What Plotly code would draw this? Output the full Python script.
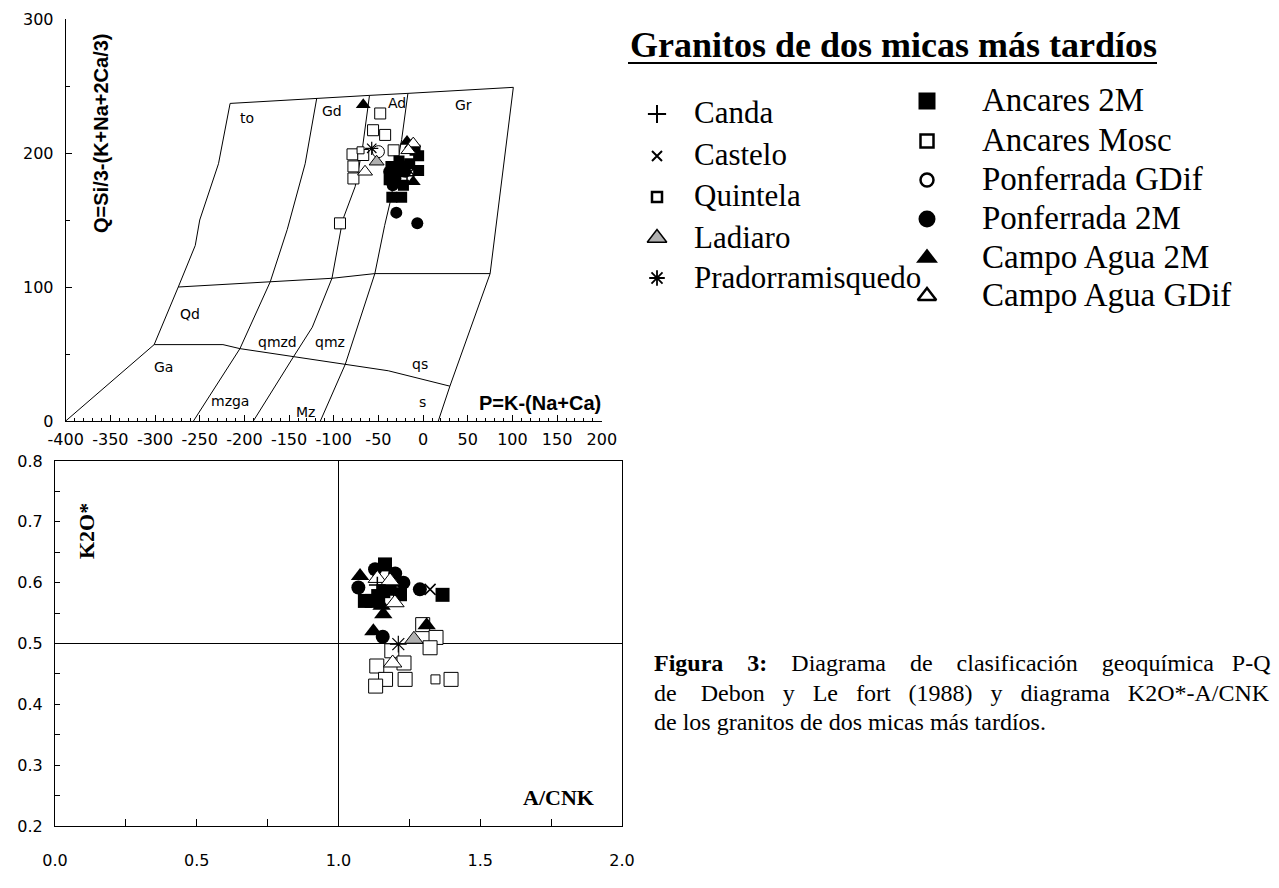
import plotly.graph_objects as go

W, H = 1279, 888

# ---------------- P-Q diagram (Debon & Le Fort, 1988): field boundaries ----------------
outer_left_P = [-216, -229, -250, -255, -274, -301, -400]
outer_left_Q = [237, 192, 150, 131, 100, 57, 0]
top_edge_P = [-216, -119, -60, -17, 101]
top_edge_Q = [237, 241, 243, 244.5, 249]
right_edge_P = [101, 82, 75, 30, 17]
right_edge_Q = [249, 145, 110, 26, 0]
to_gd_P = [-119, -132, -152, -171, -205, -257]
to_gd_Q = [241, 192, 143, 104, 54, 0]
gd_ad_P = [-60, -68, -76, -90, -102, -124, -145, -190]
gd_ad_Q = [243, 203, 175, 150, 106.5, 70, 48, 0]
ad_gr_P = [-17, -24, -37, -43, -54, -71, -87, -115]
ad_gr_Q = [244.5, 210, 163, 146, 110, 76, 42.5, 0]
qd_top_P = [-274, -171, -102, -54, 75]
qd_top_Q = [100, 104, 106.5, 110, 110]
ga_top_P = [-301, -224, -205, -145, -87, -39, 30]
ga_top_Q = [57, 57, 54, 48, 42.5, 37.5, 26]

field_names = ["to", "Gd", "Ad", "Gr", "Qd", "Ga", "qmzd", "mzga", "Mz", "qmz", "qs", "s"]
field_P = [-197, -102, -29, 45, -261, -291, -163, -216, -132, -104, -3, -1]
field_Q = [226, 231, 237, 236, 80, 40, 59, 15, 7, 59, 42.5, 14]

pq_xticks = list(range(-400, 201, 50))
pq_xlabels = [str(v) for v in pq_xticks]          # plain hyphen, as printed

# ---------------- samples: P-Q values ----------------
ancares_2m_P = [-35, -24, -36, -28, -38, -22, -15, -5, -9, -5, -27, -33]
ancares_2m_Q = [167, 167, 190, 186, 180, 176, 192, 187, 202, 198, 194, 184]
ancares_mosc_P = [-48, -56, -42.5, -79, -67, -33, -78, -78, -93]
ancares_mosc_Q = [229.5, 217, 213.5, 199, 198.5, 202, 190, 181, 147.5]
ponferrada_gdif_P = [-50]
ponferrada_gdif_Q = [201]
ponferrada_2m_P = [-30, -6.5, -38, -31, -25, -34, -20]
ponferrada_2m_Q = [155.5, 147.5, 186, 181, 191, 176, 186]
campo_agua_2m_P = [-67, -18, -13, -11, -28]
campo_agua_2m_Q = [236, 208.5, 206, 178.5, 178]
campo_agua_gdif_P = [-65, -11, -16.5]
campo_agua_gdif_Q = [186, 207, 202]
canda_P = [-18]
canda_Q = [183]
castelo_P = [-14]
castelo_Q = [186]
quintela_P = [-70]
quintela_Q = [202]
ladiaro_P = [-52]
ladiaro_Q = [193.5]
prado_P = [-57.5]
prado_Q = [203.5]

# ---------------- samples: A/CNK - K2O* values ----------------
ancares_2m_A = [1.093, 1.164, 1.158, 1.117, 1.217, 1.367, 1.14, 1.18]
ancares_2m_K = [0.570, 0.630, 0.586, 0.570, 0.581, 0.580, 0.578, 0.590]
ancares_mosc_A = [1.297, 1.344, 1.323, 1.188, 1.231, 1.135, 1.166, 1.235, 1.397, 1.131]
ancares_mosc_K = [0.531, 0.510, 0.493, 0.488, 0.468, 0.463, 0.441, 0.441, 0.441, 0.430]
ponferrada_gdif_A = []
ponferrada_gdif_K = []
ponferrada_2m_A = [1.070, 1.129, 1.229, 1.287, 1.156, 1.200]
ponferrada_2m_K = [0.592, 0.622, 0.600, 0.589, 0.511, 0.615]
campo_agua_2m_A = [1.076, 1.152, 1.158, 1.311, 1.123, 1.190]
campo_agua_2m_K = [0.611, 0.562, 0.548, 0.530, 0.520, 0.600]
campo_agua_gdif_A = [1.137, 1.182, 1.199, 1.191]
campo_agua_gdif_K = [0.607, 0.603, 0.567, 0.468]
canda_A = [1.137]
canda_K = [0.596]
castelo_A = [1.323]
castelo_K = [0.589]
quintela_A = [1.342]
quintela_K = [0.441]
ladiaro_A = [1.266]
ladiaro_K = [0.507]
prado_A = [1.211]
prado_K = [0.499]

# ---------------- legend entries ----------------
legend_left = ["Canda", "Castelo", "Quintela", "Ladiaro", "Pradorramisquedo"]
legend_right = ["Ancares 2M", "Ancares Mosc", "Ponferrada GDif", "Ponferrada 2M",
                "Campo Agua 2M", "Campo Agua GDif"]

# caption words: (word, bold); the last line is left ragged
caption_lines = [
    [("Figura", True), ("3:", True), ("Diagrama", False), ("de", False),
     ("clasificación", False), ("geoquímica", False), ("P-Q", False)],
    [("de", False), ("Debon", False), ("y", False), ("Le", False), ("fort", False),
     ("(1988)", False), ("y", False), ("diagrama", False), ("K2O*-A/CNK", False)],
    [("de", False), ("los", False), ("granitos", False), ("de", False), ("dos", False),
     ("micas", False), ("más", False), ("tardíos.", False)],
]

# marker styles: symbol, fill, outline width, size (P-Q), size (A/CNK), size (legend)
STYLE = {
    "Ancares 2M":       ("square", "black", 0, 11, 14, 17),
    "Ancares Mosc":     ("square", "white", 1, 11, 14, 13),
    "Ponferrada GDif":  ("circle", "white", 1, 12, 14, 13),
    "Ponferrada 2M":    ("circle", "black", 0, 12, 14, 17),
    "Campo Agua 2M":    ("triangle-up", "black", 0, 13, 16, 19),
    "Campo Agua GDif":  ("triangle-up", "white", 1, 13, 16, 16),
    "Canda":            ("cross-thin", "black", 1.5, 10, 12, 13),
    "Castelo":          ("x-thin", "black", 1.5, 9, 11, 10),
    "Quintela":         ("square", "white", 1, 7, 9, 10),
    "Ladiaro":          ("triangle-up", "#b0b0b0", 1, 13, 16, 17),
    "Pradorramisquedo": ("asterisk", "black", 1.2, 11, 14, 13),
}
LEGEND_LINE = {"Ancares Mosc": 2.5, "Ponferrada GDif": 2.5, "Campo Agua GDif": 2.5,
               "Quintela": 2.5, "Ladiaro": 1.5, "Canda": 2, "Castelo": 2,
               "Pradorramisquedo": 1.8}

series = [
    ("Ancares Mosc", ancares_mosc_P, ancares_mosc_Q, ancares_mosc_A, ancares_mosc_K),
    ("Ancares 2M", ancares_2m_P, ancares_2m_Q, ancares_2m_A, ancares_2m_K),
    ("Ponferrada 2M", ponferrada_2m_P, ponferrada_2m_Q, ponferrada_2m_A, ponferrada_2m_K),
    ("Campo Agua 2M", campo_agua_2m_P, campo_agua_2m_Q, campo_agua_2m_A, campo_agua_2m_K),
    ("Campo Agua GDif", campo_agua_gdif_P, campo_agua_gdif_Q, campo_agua_gdif_A, campo_agua_gdif_K),
    ("Ponferrada GDif", ponferrada_gdif_P, ponferrada_gdif_Q, ponferrada_gdif_A, ponferrada_gdif_K),
    ("Quintela", quintela_P, quintela_Q, quintela_A, quintela_K),
    ("Ladiaro", ladiaro_P, ladiaro_Q, ladiaro_A, ladiaro_K),
    ("Pradorramisquedo", prado_P, prado_Q, prado_A, prado_K),
    ("Canda", canda_P, canda_Q, canda_A, canda_K),
    ("Castelo", castelo_P, castelo_Q, castelo_A, castelo_K),
]

# ---------------- page layout (pixels) ----------------
PQ_BOX = (65.7, 601.8, 19, 421)      # left, right, top, bottom
AK_BOX = (55, 622, 461, 826)
LEG_LEFT_MARK_X, LEG_LEFT_TEXT_X = 657, 692
LEG_LEFT_Y = [113, 155, 196, 237, 277]
LEG_LEFT_SIZE = 31
LEG_RIGHT_MARK_X, LEG_RIGHT_TEXT_X = 927, 980
LEG_RIGHT_Y = [100, 140, 179, 218, 257, 295]
LEG_RIGHT_SIZE = 33
CAPTION_X0, CAPTION_X1 = 652, 1268
CAPTION_Y = [663, 693, 722]
CAPTION_SIZE = 24

SANS = "DejaVu Sans"
SANS_BOLD = "Liberation Sans, Arial"
SERIF = "Liberation Serif, Times New Roman, serif"

# advance widths (1/1000 em) of the serif face, used to justify the caption
SERIF_W = {" ": 250, "(": 333, ")": 333, "*": 500, "-": 333, ".": 250, "/": 278,
           ":": 278, "A": 722, "C": 667, "D": 722, "F": 556, "K": 722, "L": 611,
           "N": 722, "O": 722, "P": 556, "Q": 722, "a": 444, "b": 500, "c": 444,
           "d": 500, "e": 444, "f": 333, "g": 500, "i": 278, "l": 278, "m": 778,
           "n": 500, "o": 500, "q": 500, "r": 333, "s": 389, "t": 278, "u": 500,
           "y": 500, "á": 444, "í": 278, "ó": 500}
SERIF_BOLD_W = {"F": 611, "i": 278, "g": 500, "u": 556, "r": 444, "a": 500, ":": 333}


def word_width(word, bold, size):
    tot = 0
    for ch in word:
        if ch.isdigit():
            tot += 500
        elif bold and ch in SERIF_BOLD_W:
            tot += SERIF_BOLD_W[ch]
        else:
            tot += SERIF_W.get(ch, 500)
    return tot * size / 1000.0


def justify(words, size, width, last=False):
    """Build one caption line, padding the gaps with no-break spaces."""
    gaps = len(words) - 1
    if last or gaps == 0:
        counts = [1] * gaps
    else:
        space = 250 * size / 1000.0
        free = width - sum(word_width(w, b, size) for w, b in words)
        total = max(gaps, int(round(free / space)))
        base, extra = divmod(total, gaps)
        counts = [base + (1 if i < extra else 0) for i in range(gaps)]
    out = ""
    for i, (w, b) in enumerate(words):
        out += "<b>%s</b>" % w if b else w
        if i < gaps:
            out += "\u00a0" * counts[i]
    return out


def px(x):
    return x / W


def py(y):
    return 1 - y / H


def marker(name, which, lw_override=None):
    sym, fill, lw, s_pq, s_ak, s_leg = STYLE[name]
    size = {"pq": s_pq, "ak": s_ak, "leg": s_leg}[which]
    if lw_override is not None:
        lw = lw_override
    return dict(symbol=sym, size=size, color=fill,
                line=dict(color="black", width=lw))


def label(x, y, text, family, size, xanchor="center", angle=0):
    return dict(x=px(x), y=py(y), xref="paper", yref="paper", text=text,
                showarrow=False, xanchor=xanchor, yanchor="middle",
                textangle=angle, font=dict(family=family, size=size, color="black"))


fig = go.Figure()

# field boundaries
for bp, bq in [(outer_left_P, outer_left_Q), (top_edge_P, top_edge_Q),
               (right_edge_P, right_edge_Q), (to_gd_P, to_gd_Q),
               (gd_ad_P, gd_ad_Q), (ad_gr_P, ad_gr_Q),
               (qd_top_P, qd_top_Q), (ga_top_P, ga_top_Q)]:
    fig.add_trace(go.Scatter(x=bp, y=bq, xaxis="x", yaxis="y", mode="lines",
                             line=dict(color="black", width=1),
                             showlegend=False, hoverinfo="skip"))

# samples in both diagrams
for name, P, Q, A, K in series:
    fig.add_trace(go.Scatter(x=P, y=Q, xaxis="x", yaxis="y", mode="markers",
                             marker=marker(name, "pq"), name=name,
                             showlegend=False, hoverinfo="skip"))
    fig.add_trace(go.Scatter(x=A, y=K, xaxis="x2", yaxis="y2", mode="markers",
                             marker=marker(name, "ak"), name=name,
                             showlegend=False, hoverinfo="skip"))

# legend glyphs on a page-pixel axis
for names, mx, ys in [(legend_left, LEG_LEFT_MARK_X, LEG_LEFT_Y),
                      (legend_right, LEG_RIGHT_MARK_X, LEG_RIGHT_Y)]:
    for name, yy in zip(names, ys):
        fig.add_trace(go.Scatter(x=[mx], y=[yy + 1], xaxis="x3", yaxis="y3",
                                 mode="markers",
                                 marker=marker(name, "leg", LEGEND_LINE.get(name)),
                                 showlegend=False, hoverinfo="skip"))

annotations = []
for t, p, q in zip(field_names, field_P, field_Q):
    annotations.append(dict(x=p, y=q, xref="x", yref="y", text=t, showarrow=False,
                            xanchor="center", yanchor="middle",
                            font=dict(family=SANS, size=14, color="black")))

annotations += [
    label(101, 133, "<b>Q=Si/3-(K+Na+2Ca/3)</b>", SANS_BOLD, 20, angle=-90),
    label(603, 403, "<b>P=K-(Na+Ca)</b>", SANS_BOLD, 20, xanchor="right"),
    label(86, 531, "<b>K2O*</b>", SERIF, 22, angle=-90),
    label(558, 797, "<b>A/CNK</b>", SERIF, 22),
    label(628, 45, "<b>Granitos de dos micas más tardíos</b>", SERIF, 36, xanchor="left"),
]
for names, tx, ys, fs in [(legend_left, LEG_LEFT_TEXT_X, LEG_LEFT_Y, LEG_LEFT_SIZE),
                          (legend_right, LEG_RIGHT_TEXT_X, LEG_RIGHT_Y, LEG_RIGHT_SIZE)]:
    for name, yy in zip(names, ys):
        annotations.append(label(tx, yy, name, SERIF, fs, xanchor="left"))
for i, (words, yy) in enumerate(zip(caption_lines, CAPTION_Y)):
    text = justify(words, CAPTION_SIZE, CAPTION_X1 - CAPTION_X0,
                   last=(i == len(caption_lines) - 1))
    annotations.append(label(CAPTION_X0, yy, text, SERIF, CAPTION_SIZE, xanchor="left"))

shapes = [
    # title underline
    dict(type="line", xref="paper", yref="paper", x0=px(628), x1=px(1157),
         y0=py(63), y1=py(63), line=dict(color="black", width=2)),
    # reference lines of the A/CNK diagram
    dict(type="line", xref="x2", yref="y2", x0=1.0, x1=1.0, y0=0.2, y1=0.8,
         line=dict(color="black", width=1), layer="below"),
    dict(type="line", xref="x2", yref="y2", x0=0.0, x1=2.0, y0=0.5, y1=0.5,
         line=dict(color="black", width=1), layer="below"),
]

tick_font = dict(family=SANS, size=16, color="black")
l, r, t, b = PQ_BOX
l2, r2, t2, b2 = AK_BOX

common = dict(showgrid=False, zeroline=False, tickfont=tick_font, fixedrange=True,
              automargin=False, showline=True, linecolor="black", linewidth=1,
              tickwidth=1, tickcolor="black", ticks="inside", tickangle=0)

fig.update_layout(
    width=W, height=H,
    margin=dict(l=0, r=0, t=0, b=0, pad=0, autoexpand=False),
    paper_bgcolor="white", plot_bgcolor="rgba(0,0,0,0)",
    showlegend=False,
    xaxis=dict(domain=[px(l), px(r)], range=[-400, 200], anchor="y",
               tickmode="array", tickvals=pq_xticks, ticktext=pq_xlabels, ticklen=6,
               minor=dict(dtick=10, ticks="inside", ticklen=3, tickcolor="black"),
               ticklabelstandoff=4, **common),
    yaxis=dict(domain=[py(b), py(t)], range=[0, 300], anchor="x",
               tickmode="array", tickvals=[0, 100, 200, 300], ticklen=6,
               minor=dict(dtick=50, ticks="inside", ticklen=4, tickcolor="black"),
               ticklabelstandoff=8, **common),
    xaxis2=dict(domain=[px(l2), px(r2)], range=[0, 2], anchor="y2",
                tickmode="array", tickvals=[0, 0.5, 1.0, 1.5, 2.0],
                ticktext=["0.0", "0.5", "1.0", "1.5", "2.0"], ticklen=7,
                minor=dict(dtick=0.25, ticks="inside", ticklen=7, tickcolor="black"),
                mirror=True, ticklabelstandoff=20, **common),
    yaxis2=dict(domain=[py(b2), py(t2)], range=[0.2, 0.8], anchor="x2",
                tickmode="array", tickvals=[0.2, 0.3, 0.4, 0.5, 0.6, 0.7, 0.8],
                ticktext=["0.2", "0.3", "0.4", "0.5", "0.6", "0.7", "0.8"], ticklen=5,
                minor=dict(dtick=0.05, ticks="inside", ticklen=5, tickcolor="black"),
                mirror=True, ticklabelstandoff=8, **common),
    xaxis3=dict(domain=[0, 1], range=[0, W], anchor="y3", visible=False,
                fixedrange=True, automargin=False),
    yaxis3=dict(domain=[0, 1], range=[H, 0], anchor="x3", visible=False,
                fixedrange=True, automargin=False),
    annotations=annotations,
    shapes=shapes,
)

fig.write_html("out.html", config={"displayModeBar": False},
               post_script="document.body.style.margin='0';")
